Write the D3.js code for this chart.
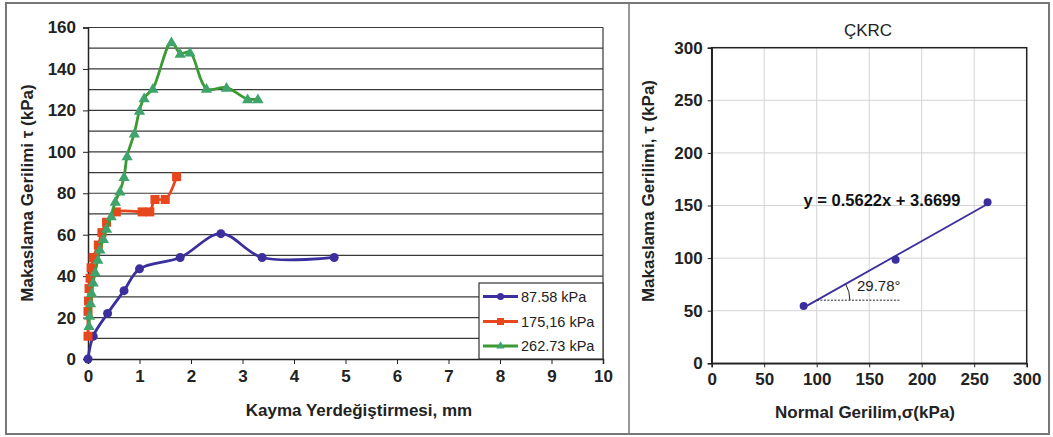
<!DOCTYPE html>
<html><head><meta charset="utf-8">
<script src="https://cdn.jsdelivr.net/npm/d3@7"></script>
<style>
body{margin:0;background:#fff;}
svg{display:block;font-family:"Liberation Sans",Arial,sans-serif;}
</style></head>
<body><svg id="c" width="1053" height="437"></svg>
<script>
// ---- Left chart data: shear displacement (mm) vs shear stress (kPa)
const seriesNames = ["87.58 kPa", "175,16 kPa", "262.73 kPa"];
const disp1 = [0, 0.1, 0.38, 0.7, 1.0, 1.79, 2.58, 3.38, 4.78];
const tau1  = [0, 11, 22, 33, 43.5, 49, 60.5, 49, 49];
const disp2 = [0, 0, 0.01, 0.02, 0.04, 0.06, 0.1, 0.2, 0.27, 0.36, 0.55, 1.05, 1.2, 1.3, 1.5, 1.72];
const tau2  = [11, 23, 28, 34, 39, 44, 49, 55, 61, 66, 71, 71, 71, 77, 77, 88];
const disp3 = [0.02, 0.03, 0.05, 0.07, 0.1, 0.14, 0.19, 0.23, 0.3, 0.36, 0.45, 0.53, 0.62, 0.7, 0.76, 0.9, 1.0, 1.09, 1.26, 1.62, 1.79, 1.98, 2.3, 2.69, 3.1, 3.3];
const tau3  = [16, 21, 27, 32, 37, 42, 48, 53, 58, 63, 69, 76, 81, 88, 98, 109, 120, 126, 130.5, 153, 147.5, 148, 130.5, 131, 125.5, 125.5];
const xTicksL = [0,1,2,3,4,5,6,7,8,9,10];
const yTicksL = [0,20,40,60,80,100,120,140,160];

// ---- Right chart data: normal stress vs peak shear stress
const normalStress = [87.58, 175.16, 262.73];
const peakShear = [54.5, 98.5, 153];
const fitSlope = 0.5622, fitIntercept = 3.6699;
const fitLabel = "y = 0.5622x + 3.6699";
const angleLabel = "29.78°";
const xTicksR = [0,50,100,150,200,250,300];
const yTicksR = [0,50,100,150,200,250,300];

const svg = d3.select("#c");
const blue = "#3a2f9c", red = "#e8461c", green = "#3c9a32", greenMk = "#3fa36c";

// outer frame
svg.append("rect").attr("x",6).attr("y",3).attr("width",1043).attr("height",431)
  .attr("fill","none").attr("stroke","#777").attr("stroke-width",2);
svg.append("line").attr("x1",629).attr("x2",629).attr("y1",3).attr("y2",434)
  .attr("stroke","#777").attr("stroke-width",1.5);

// ================= LEFT CHART =================
const xL = d3.scaleLinear().domain([0,10]).range([88,603]);
const yL = d3.scaleLinear().domain([0,160]).range([359,27.5]);
const gL = svg.append("g");

gL.selectAll(".hg").data(d3.range(10,161,10)).enter().append("line")
  .attr("x1",xL(0)).attr("x2",xL(10)).attr("y1",d=>yL(d)).attr("y2",d=>yL(d))
  .attr("stroke","#3a3a3a").attr("stroke-width",1.2);
gL.append("line").attr("x1",xL(10)).attr("x2",xL(10)).attr("y1",yL(0)).attr("y2",yL(160))
  .attr("stroke","#3a3a3a").attr("stroke-width",1.2);

const axL = gL.append("g").attr("transform",`translate(0,${yL(0)})`)
  .call(d3.axisBottom(xL).tickValues(xTicksL).tickSize(5).tickPadding(6).tickFormat(d3.format("d")));
const ayL = gL.append("g").attr("transform",`translate(${xL(0)},0)`)
  .call(d3.axisLeft(yL).tickValues(yTicksL).tickSize(5).tickPadding(7).tickFormat(d3.format("d")));
[axL,ayL].forEach(a=>{
  a.select(".domain").attr("stroke","#222").attr("stroke-width",1.5);
  a.selectAll(".tick line").attr("stroke","#222");
  a.selectAll("text").attr("font-size",17).attr("font-weight","bold").attr("fill","#222")
   .attr("font-family","Liberation Sans, Arial, sans-serif");
});

const line = d3.line().x(d=>xL(d[0])).y(d=>yL(d[1])).curve(d3.curveCatmullRom.alpha(0.5));
const s1 = disp1.map((d,i)=>[d,tau1[i]]);
const s2 = disp2.map((d,i)=>[d,tau2[i]]);
const s3 = disp3.map((d,i)=>[d,tau3[i]]);

gL.append("path").datum(s1).attr("d",line).attr("fill","none").attr("stroke",blue).attr("stroke-width",2.8);
gL.selectAll(".m1").data(s1).enter().append("circle")
  .attr("cx",d=>xL(d[0])).attr("cy",d=>yL(d[1])).attr("r",4.5).attr("fill",blue);

gL.append("path").datum(s2).attr("d",line).attr("fill","none").attr("stroke",red).attr("stroke-width",2.8);
gL.selectAll(".m2").data(s2).enter().append("rect")
  .attr("x",d=>xL(d[0])-4.5).attr("y",d=>yL(d[1])-4.5).attr("width",9).attr("height",9).attr("fill",red);

gL.append("path").datum(s3).attr("d",line).attr("fill","none").attr("stroke",green).attr("stroke-width",2.8);
const tri = d3.symbol().type(d3.symbolTriangle).size(55);
gL.selectAll(".m3").data(s3).enter().append("path").attr("d",tri)
  .attr("transform",d=>`translate(${xL(d[0])},${yL(d[1])+1})`).attr("fill",greenMk);

// axis titles
gL.append("text").attr("x",359).attr("y",416).attr("text-anchor","middle")
  .attr("font-size",17).attr("font-weight","bold").attr("fill","#222").text("Kayma Yerdeğiştirmesi, mm");
gL.append("text").attr("transform","translate(33,193) rotate(-90)").attr("text-anchor","middle")
  .attr("font-size",17).attr("font-weight","bold").attr("fill","#222")
  .text("Makaslama Gerilimi τ (kPa)");

// legend
const lg = gL.append("g");
lg.append("rect").attr("x",479).attr("y",283).attr("width",124).attr("height",76)
  .attr("fill","#fff").attr("stroke","#333").attr("stroke-width",1.2);
const legY = [296.5, 321.5, 346];
const legCol = [blue, red, green];
seriesNames.forEach((n,i)=>{
  lg.append("line").attr("x1",483).attr("x2",518).attr("y1",legY[i]).attr("y2",legY[i])
    .attr("stroke",legCol[i]).attr("stroke-width",2.8);
  if(i===0) lg.append("circle").attr("cx",500.5).attr("cy",legY[i]).attr("r",3.5).attr("fill",blue);
  if(i===1) lg.append("rect").attr("x",497).attr("y",legY[i]-3.5).attr("width",7).attr("height",7).attr("fill",red);
  if(i===2) lg.append("path").attr("d",d3.symbol().type(d3.symbolTriangle).size(30))
    .attr("transform",`translate(500.5,${legY[i]})`).attr("fill",greenMk);
  lg.append("text").attr("x",521).attr("y",legY[i]).attr("dy","0.35em")
    .attr("font-size",14.5).attr("fill","#222").text(n);
});

// ================= RIGHT CHART =================
const xR = d3.scaleLinear().domain([0,300]).range([711.7,1026.7]);
const yR = d3.scaleLinear().domain([0,300]).range([363.3,47.7]);
const gR = svg.append("g");

gR.selectAll(".vg").data(xTicksR.slice(1)).enter().append("line")
  .attr("x1",d=>xR(d)).attr("x2",d=>xR(d)).attr("y1",yR(0)).attr("y2",yR(300))
  .attr("stroke","#d4d4d4").attr("stroke-width",1);
gR.selectAll(".hg").data(yTicksR.slice(1)).enter().append("line")
  .attr("x1",xR(0)).attr("x2",xR(300)).attr("y1",d=>yR(d)).attr("y2",d=>yR(d))
  .attr("stroke","#d4d4d4").attr("stroke-width",1);
gR.append("rect").attr("x",xR(0)).attr("y",yR(300)).attr("width",xR(300)-xR(0)).attr("height",yR(0)-yR(300))
  .attr("fill","none").attr("stroke","#222").attr("stroke-width",1.5);

const axR = gR.append("g").attr("transform",`translate(0,${yR(0)})`)
  .call(d3.axisBottom(xR).tickValues(xTicksR).tickSize(4).tickPadding(6).tickFormat(d3.format("d")));
const ayR = gR.append("g").attr("transform",`translate(${xR(0)},0)`)
  .call(d3.axisLeft(yR).tickValues(yTicksR).tickSize(4).tickPadding(5).tickFormat(d3.format("d")));
[axR,ayR].forEach(a=>{
  a.select(".domain").attr("stroke","#222").attr("stroke-width",1.5);
  a.selectAll(".tick line").attr("stroke","#222");
  a.selectAll("text").attr("font-size",17).attr("font-weight","bold").attr("fill","#222")
   .attr("font-family","Liberation Sans, Arial, sans-serif");
});

// trend line
const x0 = normalStress[0], x1 = normalStress[2];
gR.append("line").attr("x1",xR(x0)).attr("y1",yR(fitSlope*x0+fitIntercept))
  .attr("x2",xR(x1)).attr("y2",yR(fitSlope*x1+fitIntercept))
  .attr("stroke",blue).attr("stroke-width",1.8);
gR.selectAll(".pt").data(normalStress).enter().append("circle")
  .attr("cx",d=>xR(d)).attr("cy",(d,i)=>yR(peakShear[i])).attr("r",4).attr("fill",blue);

// angle annotation
const yRef = 60;
const xRef = (yRef - fitIntercept)/fitSlope;
const cx = xR(xRef), cy = yR(yRef);
gR.append("line").attr("x1",cx).attr("x2",xR(179)).attr("y1",cy).attr("y2",cy)
  .attr("stroke","#222").attr("stroke-width",1).attr("stroke-dasharray","2,1.5");
const ang = Math.atan2(yR(yRef)-yR(yRef+fitSlope*50), xR(xRef+50)-xR(xRef));
const r = 33;
gR.append("path").attr("d",`M${cx+r},${cy} A${r},${r} 0 0 0 ${cx+r*Math.cos(ang)},${cy-r*Math.sin(ang)}`)
  .attr("fill","none").attr("stroke","#222").attr("stroke-width",1);
gR.append("text").attr("x",857).attr("y",286).attr("dy","0.35em")
  .attr("font-size",15).attr("fill","#222").text(angleLabel);

gR.append("text").attr("x",882).attr("y",200).attr("dy","0.35em").attr("text-anchor","middle")
  .attr("font-size",16.5).attr("font-weight","bold").attr("fill","#111").text(fitLabel);

gR.append("text").attr("x",868).attr("y",30).attr("dy","0.35em").attr("text-anchor","middle")
  .attr("font-size",17).attr("fill","#222").text("ÇKRC");

gR.append("text").attr("x",865).attr("y",418).attr("text-anchor","middle")
  .attr("font-size",17).attr("font-weight","bold").attr("fill","#222").text("Normal Gerilim,σ(kPa)");
gR.append("text").attr("transform","translate(654,191) rotate(-90)").attr("text-anchor","middle")
  .attr("font-size",17).attr("font-weight","bold").attr("fill","#222")
  .text("Makaslama Gerilimi, τ (kPa)");
</script></body></html>
